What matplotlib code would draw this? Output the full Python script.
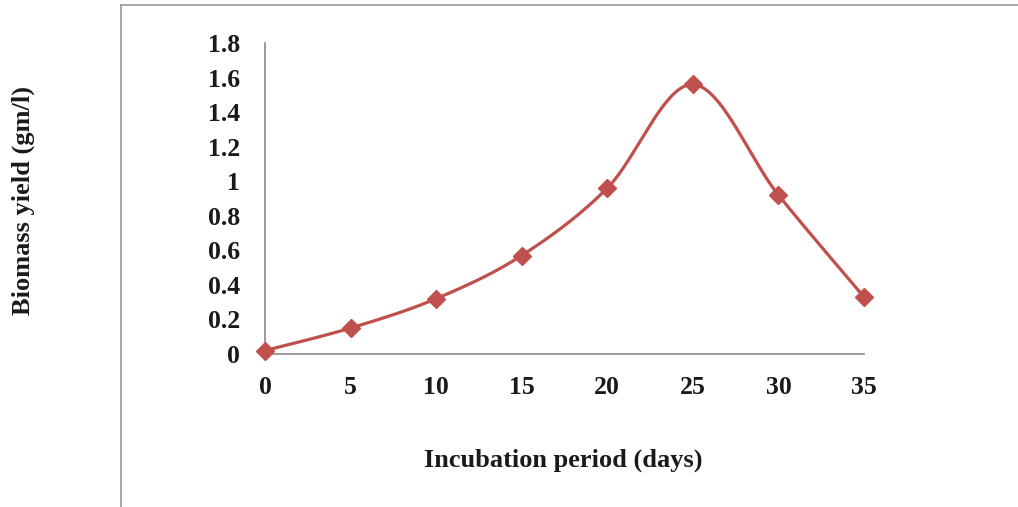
import numpy as np
import matplotlib.pyplot as plt
from matplotlib.lines import Line2D

# incubation period (days) vs biomass yield (gm/l)
days = [0, 5, 10, 15, 20, 25, 30, 35]
biomass = [0.02, 0.15, 0.32, 0.57, 0.96, 1.56, 0.92, 0.33]
x_ticks = [0, 5, 10, 15, 20, 25, 30, 35]
y_ticks = [0, 0.2, 0.4, 0.6, 0.8, 1, 1.2, 1.4, 1.6, 1.8]
y_tick_labels = ['0', '0.2', '0.4', '0.6', '0.8', '1', '1.2', '1.4', '1.6', '1.8']

red = '#C0504D'
plt.rcParams['font.family'] = ['Liberation Serif', 'DejaVu Serif']
plt.rcParams['font.weight'] = 'bold'


def smooth(xs, ys, sx, sy, n=40):
    # Excel-like smoothed line: Catmull-Rom through the points, in screen-ish units
    px = np.array(xs, float) * sx
    py = np.array(ys, float) * sy
    px = np.concatenate([[px[0]], px, [px[-1]]])
    py = np.concatenate([[py[0]], py, [py[-1]]])
    out_x, out_y = [], []
    for i in range(1, len(px) - 2):
        p0, p1, p2, p3 = [np.array([px[j], py[j]]) for j in (i - 1, i, i + 1, i + 2)]
        c1 = p1 + (p2 - p0) / 6
        c2 = p2 - (p3 - p1) / 6
        t = np.linspace(0, 1, n)[:, None]
        b = ((1 - t) ** 3) * p1 + 3 * ((1 - t) ** 2) * t * c1 + 3 * (1 - t) * t ** 2 * c2 + t ** 3 * p2
        out_x.extend(b[:, 0])
        out_y.extend(b[:, 1])
    return np.array(out_x) / sx, np.array(out_y) / sy


fig = plt.figure(figsize=(10.18, 5.07), dpi=100)
ax = fig.add_axes([0.2603, 0.3018, 0.5884, 0.6134])

sx, sy = 599 / 35, 311 / 1.8
lx, ly = smooth(days, biomass, sx, sy)
ax.plot(lx, ly, color=red, lw=2.3, solid_capstyle='round', zorder=2)
ax.plot(days, biomass, linestyle='none', marker='D', markersize=9,
        color=red, markeredgecolor=red, zorder=3, clip_on=False)

ax.set_xlim(0, 35)
ax.set_ylim(0, 1.8)
ax.set_xticks(x_ticks)
ax.set_yticks(y_ticks)
ax.set_yticklabels(y_tick_labels)
ax.tick_params(length=0, labelsize=18.5, colors='#1a1a1a')
ax.tick_params(axis='y', pad=18)
ax.tick_params(axis='x', pad=16)
for s in ['top', 'right']:
    ax.spines[s].set_visible(False)
for s in ['left', 'bottom']:
    ax.spines[s].set_color('#8a8a8a')
    ax.spines[s].set_linewidth(1.2)

fig.text(0.5535, 0.092, 'Incubation period (days)', ha='center', va='center',
         fontsize=19, fontweight='bold', color='#1a1a1a')
fig.text(0.023, 0.605, 'Biomass yield (gm/l)', ha='center', va='center',
         rotation=90, fontsize=19, fontweight='bold', color='#1a1a1a')

# outer chart frame
fx = 121 / 1018
fy = 1 - 5 / 507
fig.add_artist(Line2D([fx, fx], [0, fy], transform=fig.transFigure, color='#9a9a9a', lw=1.2))
fig.add_artist(Line2D([fx, 1], [fy, fy], transform=fig.transFigure, color='#9a9a9a', lw=1.2))

fig.savefig('out.png', dpi=100)
